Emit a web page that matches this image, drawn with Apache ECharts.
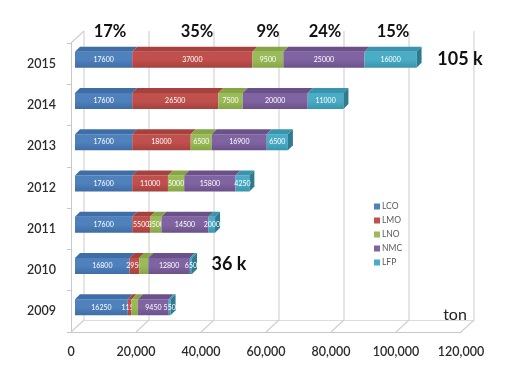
<!DOCTYPE html>
<html><head><meta charset="utf-8">
<script src="https://cdn.jsdelivr.net/npm/echarts@6/dist/echarts.min.js"></script>
<style>html,body{margin:0;padding:0;background:#fff}#c{width:519px;height:379px}</style>
</head><body><div id="c"></div>
<script>
const years = ['2009','2010','2011','2012','2013','2014','2015'];
const seriesNames = ['LCO','LMO','LNO','NMC','LFP'];
const LCO = [16250,16800,17600,17600,17600,17600,17600];
const LMO = [1150,2950,5500,11000,18000,26500,37000];
const LNO = [2000,2800,3500,5000,6500,7500,9500];
const NMC = [9450,12800,14500,15800,16900,20000,25000];
const LFP = [550,650,2000,4250,6500,11000,16000];
const hiddenLabels = {LNO:['2009','2010']};
const xTicks = [0,20000,40000,60000,80000,100000,120000];
const shareLabels = ['17%','35%','9%','24%','15%'];
const totalLabels = ['105 k','36 k'];
const unitLabel = 'ton';

const colors = ['#4f81bd','#c0504d','#9bbb59','#8064a2','#4bacc6'];
const topColors = ['#3f6da5','#a6413e','#86a545','#6b5189','#3995ae'];
const sideColors = ['#2f5687','#8a3230','#6d8a36','#55406f','#2e7a8f'];
const values = [LCO,LMO,LNO,NMC,LFP];
const FONT = 'Lato, "Open Sans", sans-serif';

const series = seriesNames.map((name, si) => {
  const data = years.map((y, ci) => {
    let start = 0;
    for (let k = 0; k < si; k++) start += values[k][ci];
    const end = start + values[si][ci];
    const last = si === seriesNames.length - 1 ? 1 : 0;
    const hide = (hiddenLabels[name] || []).indexOf(y) >= 0 ? 1 : 0;
    return [ci, start, end, last, hide, values[si][ci]];
  });
  return {
    name, type: 'custom', xAxisIndex: 0, yAxisIndex: 0,
    itemStyle: {color: colors[si]},
    encode: {x: [1,2], y: 0},
    data,
    renderItem: function(params, api){
      const cat = api.value(0), s = api.value(1), e = api.value(2);
      const last = api.value(3), hide = api.value(4), v = api.value(5);
      const p0 = api.coord([s, cat]), p1 = api.coord([e, cat]);
      const dx = 4, dy = -4, h = 16, d = 5;
      const x0 = p0[0] + dx, x1 = p1[0] + dx, yc = p0[1] + dy;
      const yt = yc - h/2, yb = yc + h/2;
      const children = [
        {type:'rect', shape:{x:x0, y:yt, width:x1-x0, height:h},
         style:{fill: new echarts.graphic.LinearGradient(0,0,0,1,[{offset:0,color:colors[si]},{offset:0.5,color:colors[si]},{offset:1,color:topColors[si]}])}},
        {type:'polygon', shape:{points:[[x0,yt],[x0+d,yt-d],[x1+d,yt-d],[x1,yt]]},
         style:{fill: topColors[si]}}
      ];
      if (last) {
        children.push({type:'polygon', shape:{points:[[x1,yt],[x1+d,yt-d],[x1+d,yb-d],[x1,yb]]},
          style:{fill: sideColors[si]}});
      }
      if (!hide) {
        children.push({type:'text', x:(x0+x1)/2, y:yc,
          style:{text:String(v), fill:'#fff', fontSize:7, fontFamily:FONT, align:'center', verticalAlign:'middle'}});
      }
      return {type:'group', children};
    }
  };
});

const chart = echarts.init(document.getElementById('c'), null, {renderer:'canvas'});
const axisLabelStyle = {color:'#2b2b2b', fontSize:12.5, fontFamily:FONT, fontWeight:600};
chart.setOption({
  animation:false,
  backgroundColor:'#fff',
  color: colors,
  grid:[
    {left:71, right:58, top:43, bottom:47},
    {left:84, right:45, top:31, bottom:59}
  ],
  legend:{
    orient:'vertical', left:369, top:197, icon:'rect', itemWidth:6, itemHeight:6, itemGap:5,
    textStyle:{fontSize:8.5, color:'#595959', fontFamily:FONT, padding:[0,0,0,-3]},
    data: seriesNames
  },
  xAxis:[
    {type:'value', gridIndex:0, min:xTicks[0], max:xTicks[xTicks.length-1], interval:xTicks[1]-xTicks[0],
     axisLine:{show:true, lineStyle:{color:'#c8c8c8'}}, axisTick:{show:false}, splitLine:{show:false},
     axisLabel:Object.assign({margin:13, formatter:v=>v.toLocaleString('en-US')}, axisLabelStyle)},
    {type:'value', gridIndex:1, min:xTicks[0], max:xTicks[xTicks.length-1], interval:xTicks[1]-xTicks[0],
     axisLine:{show:true, lineStyle:{color:'#dcdcdc'}}, axisTick:{show:false}, axisLabel:{show:false},
     splitLine:{show:true, lineStyle:{color:'#dcdcdc', width:1.5}}}
  ],
  yAxis:[
    {type:'category', gridIndex:0, data:years,
     axisLine:{show:true, lineStyle:{color:'#c8c8c8'}},
     axisTick:{show:true, length:4, lineStyle:{color:'#c8c8c8'}},
     axisLabel:Object.assign({margin:15}, axisLabelStyle)},
    {type:'category', gridIndex:1, data:years, show:false}
  ],
  series
});

// 3D floor diagonals and wall edge
const g = [];
xTicks.forEach(t => {
  const x = chart.convertToPixel({xAxisIndex:0}, t);
  g.push({type:'line', shape:{x1:x, y1:332, x2:x+13, y2:320}, style:{stroke:'#d0d0d0', lineWidth:1.2}, z:1});
});
g.push({type:'line', shape:{x1:71, y1:43, x2:84, y2:31}, style:{stroke:'#d0d0d0', lineWidth:1.2}, z:1});
const pctX = [110, 197, 268, 325, 393];
shareLabels.forEach((s,i) => {
  g.push({type:'text', x:pctX[i], y:32, style:{text:s, fill:'#111', font:'bold 16.5px '+FONT, align:'center', verticalAlign:'middle'}, z:10});
});
g.push({type:'text', x:460, y:59, style:{text:totalLabels[0], fill:'#111', font:'bold 18px '+FONT, align:'center', verticalAlign:'middle'}, z:10});
g.push({type:'text', x:229, y:264, style:{text:totalLabels[1], fill:'#111', font:'bold 18px '+FONT, align:'center', verticalAlign:'middle'}, z:10});
g.push({type:'text', x:455, y:315, style:{text:unitLabel, fill:'#222', font:'16px '+FONT, align:'center', verticalAlign:'middle'}, z:10});
chart.setOption({graphic:g});
</script></body></html>
